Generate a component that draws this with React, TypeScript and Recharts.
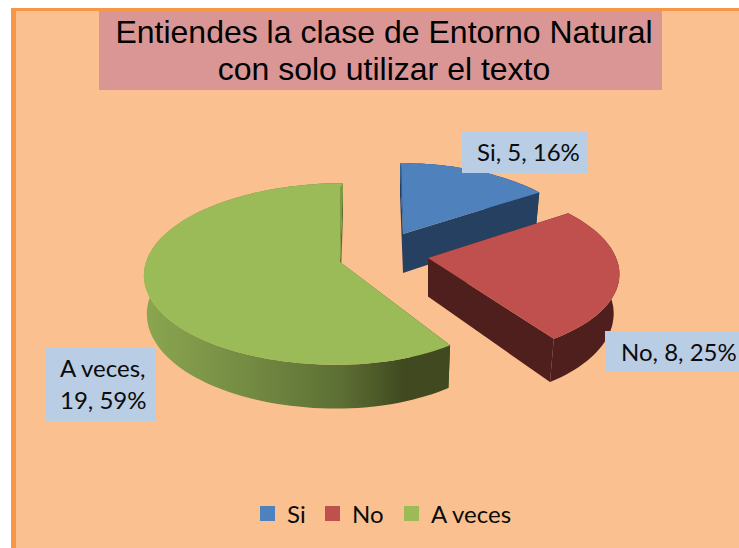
import { Legend, Pie, PieChart } from 'recharts';

const categories = ['Si', 'No', 'A veces'];
const values = [5, 8, 19];
const topColors = ['#4F81BD', '#C0504D', '#9BBB59'];
const wallColors = ['#264061', '#4F1F1E', 'url(#greenWall)'];
const sliverColors = ['#335A8A', '', '#7E9A45'];

// 3D look of the pie
const RADIUS = 194;
const TILT = 0.46;
const PERSPECTIVE = 0.132;
const PIE_CX = 370;
const PIE_CY = 255;
const explodeX = [33, 58, -30];
const explodeY = [-21, 3, 7];
const sliceScale = [0.9, 0.97, 1];
const sliceRight = [1.02, 1, 0.93];
const sliceSkew = [-3, -10, 3];
const sliceDepth = [39, 38.5, 38];
const wallShrink = [0.975, 0.97, 0.985];

// data label boxes
const labelBoxes = [
  { x: 462, y: 132, w: 126, h: 41 },
  { x: 605, y: 331, w: 134, h: 41 },
  { x: 45, y: 348, w: 111, h: 73 },
];
const labelText = [
  { x: 477, y: 161 },
  { x: 621, y: 361 },
  { x: 60, y: 377 },
];

const pieData = categories.map((name, i) => ({ name, value: values[i], fill: topColors[i] }));

type Pt = [number, number];

function rimPoint(angle: number, i: number, ax: number, ay: number, shrink = 1, drop = 0): Pt {
  const theta = ((90 - angle) * Math.PI) / 180;
  const x = Math.sin(theta);
  const y = Math.cos(theta);
  const s = 1 / (1 + PERSPECTIVE * y);
  const r = RADIUS * sliceScale[i];
  const side = x > 0 ? sliceRight[i] : 1;
  return [
    ax + (r * side * x * s + sliceSkew[i] * y) * shrink,
    ay - r * TILT * y * s + drop * s,
  ];
}

function toPath(pts: Pt[]) {
  return 'M' + pts.map((p) => `${p[0].toFixed(1)},${p[1].toFixed(1)}`).join('L') + 'Z';
}

function Slice(props: any) {
  const { cx, cy, startAngle, endAngle, index } = props;
  const i = index ?? 0;
  const ax = cx + explodeX[i];
  const ay = cy + explodeY[i];
  const depth = sliceDepth[i];

  const steps = Math.max(2, Math.ceil(Math.abs(endAngle - startAngle) / 2));
  const angles = Array.from({ length: steps + 1 }, (_, k) => startAngle + ((endAngle - startAngle) * k) / steps);
  const rim = angles.map((a) => rimPoint(a, i, ax, ay));
  const rimLow = angles.map((a) => rimPoint(a, i, ax, ay, wallShrink[i], depth)).reverse();
  const apexLow: Pt = [ax, ay + depth];
  const first = rim[0];
  const last = rim[rim.length - 1];
  const firstLow = rimLow[rimLow.length - 1];
  const lastLow = rimLow[0];

  const sliverEdge = i === 0 ? first : i === 2 ? last : null;

  return (
    <g>
      <path d={toPath([[ax, ay], first, firstLow, apexLow])} fill={wallColors[i]} />
      <path d={toPath([[ax, ay], last, lastLow, apexLow])} fill={wallColors[i]} />
      <path d={toPath([...rim, ...rimLow])} fill={wallColors[i]} />
      <path d={toPath([[ax, ay], ...rim])} fill={topColors[i]} />
      {sliverEdge && (
        <path
          d={toPath([sliverEdge, [ax, ay], [sliverEdge[0] + (i === 2 ? -3 : 1.5), sliverEdge[1] + 4]])}
          fill={sliverColors[i]}
        />
      )}
    </g>
  );
}

function SliceLabel(props: any) {
  const { index, name, value, percent } = props;
  const box = labelBoxes[index];
  const pos = labelText[index];
  const pct = `${Math.round(percent * 100)}%`;
  const lines = index === 2 ? [`${name},`, `${value}, ${pct}`] : [`${name}, ${value}, ${pct}`];
  return (
    <g>
      <rect x={box.x} y={box.y} width={box.w} height={box.h} fill="#B9CDE5" />
      {lines.map((line, k) => (
        <text key={k} x={pos.x} y={pos.y + k * 32} fontSize={24} fontFamily="Lato" fill="#0b0b0b">
          {line}
        </text>
      ))}
    </g>
  );
}

function LegendRow() {
  const lefts = [260, 325, 404];
  return (
    <div style={{ position: 'relative', height: 20, fontFamily: 'Lato', fontSize: 24, color: '#0b0b0b' }}>
      {categories.map((name, i) => (
        <div key={name} style={{ position: 'absolute', left: lefts[i], top: 0, display: 'flex', alignItems: 'center', height: 18 }}>
          <span style={{ width: 15, height: 15, background: topColors[i], marginRight: 12 }} />
          <span style={{ whiteSpace: 'nowrap' }}>{name}</span>
        </div>
      ))}
    </div>
  );
}

export default function App() {
  return (
    <div style={{ position: 'absolute', left: 0, top: 0, width: 739, height: 548, background: '#fff', overflow: 'hidden' }}>
      <style>{'body{margin:0}'}</style>
      <div
        style={{
          position: 'absolute',
          left: 11,
          top: 8,
          width: 728,
          height: 540,
          boxSizing: 'border-box',
          background: '#FBC08F',
          borderLeft: '5px solid #F79646',
          borderTop: '3px solid #F79646',
        }}
      />
      <div
        style={{
          position: 'absolute',
          left: 99,
          top: 11,
          width: 563,
          height: 79,
          background: '#D99694',
          fontFamily: 'Liberation Sans',
          fontSize: 32,
          lineHeight: '37px',
          textAlign: 'center',
          color: '#000',
          paddingTop: 3,
          paddingLeft: 7,
          boxSizing: 'border-box',
        }}
      >
        Entiendes la clase de Entorno Natural
        <br />
        con solo utilizar el texto
      </div>
      <div style={{ position: 'absolute', left: 0, top: 0 }}>
        <PieChart width={739} height={548} margin={{ top: 0, right: 0, bottom: 0, left: 0 }}>
          <defs>
            <linearGradient id="greenWall" gradientUnits="userSpaceOnUse" x1="145" y1="0" x2="450" y2="0">
              <stop offset="0" stopColor="#8AA650" />
              <stop offset="0.35" stopColor="#738A42" />
              <stop offset="0.65" stopColor="#5C6E33" />
              <stop offset="0.85" stopColor="#40491F" />
              <stop offset="1" stopColor="#40491F" />
            </linearGradient>
          </defs>
          <Pie
            data={pieData}
            dataKey="value"
            nameKey="name"
            cx={PIE_CX}
            cy={PIE_CY}
            innerRadius={0}
            outerRadius={RADIUS}
            startAngle={90}
            endAngle={-270}
            stroke="none"
            shape={Slice}
            label={SliceLabel}
            labelLine={false}
            isAnimationActive={false}
          />
          <Legend
            content={<LegendRow />}
            wrapperStyle={{ position: 'absolute', left: 0, top: 504, width: 739, bottom: 'auto' }}
          />
        </PieChart>
      </div>
    </div>
  );
}
